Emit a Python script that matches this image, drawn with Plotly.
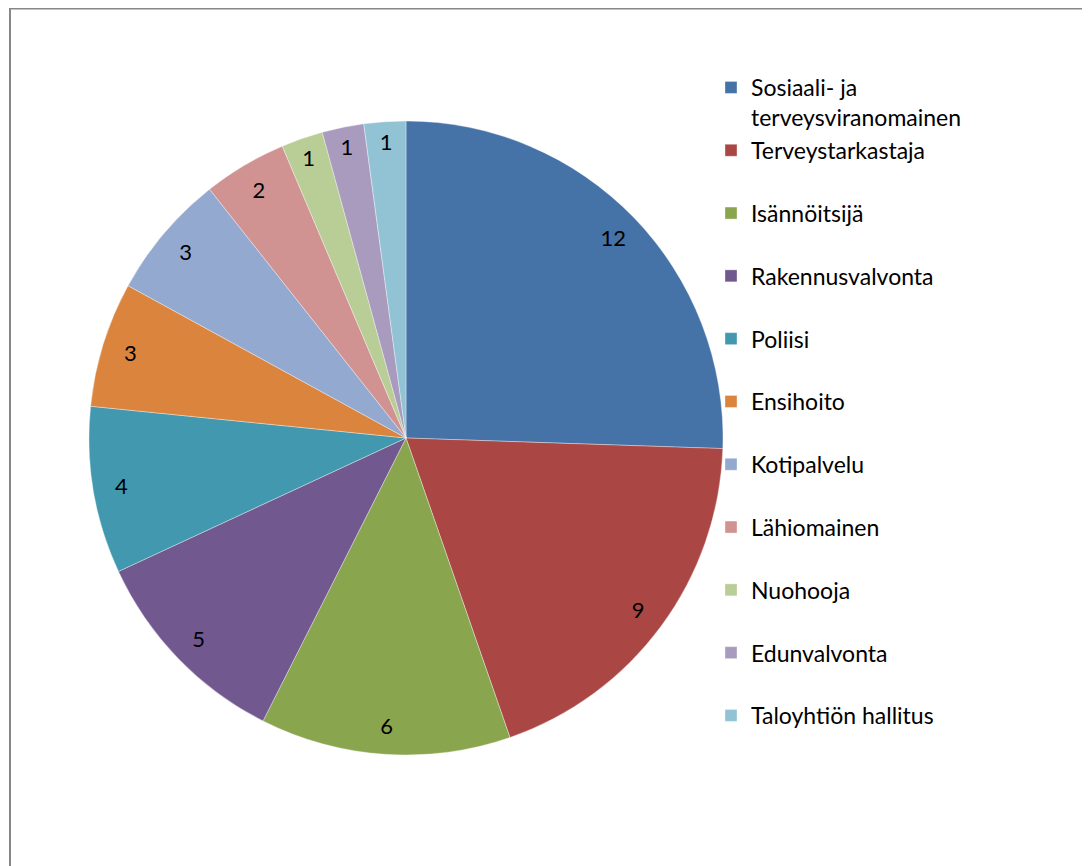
import plotly.graph_objects as go

labels = ["Sosiaali- ja<br>terveysviranomainen", "Terveystarkastaja", "Isännöitsijä",
          "Rakennusvalvonta", "Poliisi", "Ensihoito", "Kotipalvelu", "Lähiomainen",
          "Nuohooja", "Edunvalvonta", "Taloyhtiön hallitus"]
values = [12, 9, 6, 5, 4, 3, 3, 2, 1, 1, 1]
colors = ["#4572A7", "#AA4643", "#89A54E", "#71588F", "#4198AF", "#DB843D",
          "#93A9CF", "#D19392", "#B9CD96", "#A99BBD", "#92C3D5"]

legend_labels = [l if "<br>" in l else l + "<br> " for l in labels]

W, H = 1090, 866
OFF = 8  # page body margin offset
cx, cy, r = 406 - OFF, 438 - OFF, 317
dom_x = [(cx - r) / W, (cx + r) / W]
dom_y = [(H - cy - r) / H, (H - cy + r) / H]

fig = go.Figure()
fig.add_trace(go.Pie(
    labels=legend_labels, values=values, sort=False, direction="clockwise", rotation=0,
    marker=dict(colors=colors, line=dict(color="rgba(255,255,255,0.6)", width=0.6)),
    textinfo="none", domain=dict(x=dom_x, y=dom_y), showlegend=True,
))
fig.add_trace(go.Pie(
    labels=legend_labels, values=values, sort=False, direction="clockwise", rotation=0,
    hole=0.82, marker=dict(colors=["rgba(0,0,0,0)"] * len(values), line=dict(width=0)),
    textinfo="value", textposition="inside", insidetextorientation="horizontal",
    textfont=dict(family="Lato", size=22, color="#000000"),
    domain=dict(x=dom_x, y=dom_y), showlegend=False, hoverinfo="skip",
))

fig.add_shape(type="rect", xref="paper", yref="paper",
              x0=2 / W, y0=-0.05, x1=1.05, y1=1 - 0.5 / H,
              line=dict(color="#878787", width=2))

fig.update_layout(
    width=W, height=H, margin=dict(l=0, r=0, t=0, b=0),
    paper_bgcolor="white", plot_bgcolor="white",
    font=dict(family="Lato", color="#000000"),
    legend=dict(x=703 / W, y=1 - 58 / H, xanchor="left", yanchor="top",
                font=dict(family="Lato", size=23, color="#000000"),
                valign="top", traceorder="normal", bgcolor="rgba(0,0,0,0)"),
)

fig.write_html("out.html")
